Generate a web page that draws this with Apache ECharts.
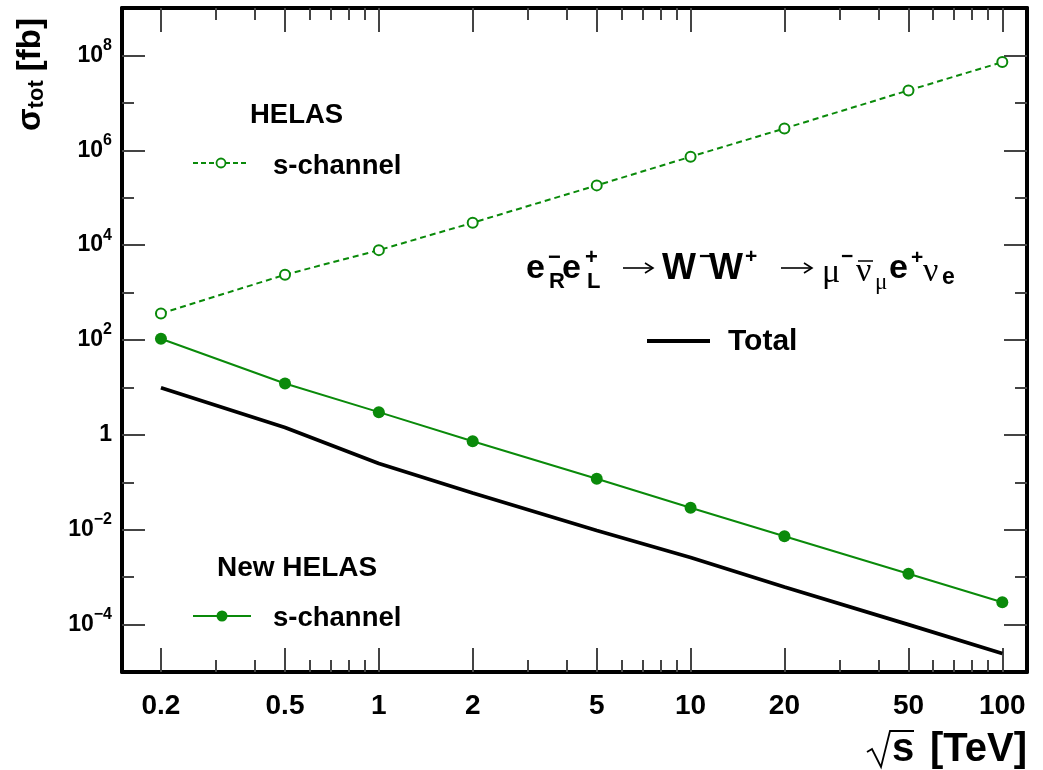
<!DOCTYPE html>
<html><head><meta charset="utf-8">
<script src="https://cdn.jsdelivr.net/npm/echarts@6/dist/echarts.min.js"></script>
<style>html,body{margin:0;padding:0;background:#fff}#c{width:1043px;height:770px}</style>
</head><body><div id="c"></div>
<script>
// ---- data ----
const energies = [0.2, 0.5, 1, 2, 5, 10, 20, 50, 100];               // sqrt(s) [TeV]
const helasS = [363, 2378, 7850, 29700, 1.82e5, 7.32e5, 2.89e6, 1.83e7, 7.24e7];
const newHelasS = [106, 12.1, 3.01, 0.736, 0.119, 0.029, 0.0073, 0.00118, 2.96e-4];
const totalXS = [9.85, 1.43, 0.249, 0.0596, 0.00964, 0.0026, 6.2e-4, 1.0e-4, 2.45e-5];
const xMajorTicks = [0.2, 0.5, 1, 2, 5, 10, 20, 50, 100];
const xTickLabels = ['0.2', '0.5', '1', '2', '5', '10', '20', '50', '100'];
const xMinorTicks = [0.3, 0.4, 0.6, 0.7, 0.8, 0.9, 3, 4, 6, 7, 8, 9, 30, 40, 60, 70, 80, 90];
const yMajorTicks = [1e-4, 1e-2, 1, 1e2, 1e4, 1e6, 1e8];
const yTickLabels = ['10{s|−4}', '10{s|−2}', '1', '10{s|2}', '10{s|4}', '10{s|6}', '10{s|8}'];
const yMinorTicks = [1e-3, 1e-1, 10, 1e3, 1e5, 1e7];

const GREEN = '#0a8a0a';
const FONT = 'Liberation Sans, Arial, Helvetica, sans-serif';
const SERIF = 'Liberation Serif, DejaVu Serif, serif';

function pick(ticks, labels, v) {
  const i = ticks.findIndex(t => Math.abs(t - v) / t < 1e-6);
  return i >= 0 ? labels[i] : '';
}
const pairs = arr => energies.map((e, i) => [e, arr[i]]);

const tickStyle = { color: '#444', width: 2 };
function xAxisDef(pos, major, withLabels) {
  return {
    type: 'log', logBase: 10, min: 0.15, max: 120, position: pos, gridIndex: 0,
    axisLine: { show: major, onZero: false, lineStyle: { color: '#000', width: 4 } },
    axisTick: { show: true, inside: true, length: major ? 24 : 12,
      customValues: major ? xMajorTicks : xMinorTicks, lineStyle: tickStyle },
    axisLabel: withLabels ? {
      show: true, customValues: xMajorTicks, margin: 20,
      formatter: v => pick(xMajorTicks, xTickLabels, v),
      fontSize: 28, fontWeight: 'bold', fontFamily: FONT, color: '#000'
    } : { show: false },
    minorTick: { show: false }, splitLine: { show: false }, minorSplitLine: { show: false }
  };
}
function yAxisDef(pos, major, withLabels) {
  return {
    type: 'log', logBase: 10, min: 1e-5, max: 1e9, position: pos, gridIndex: 0,
    axisLine: { show: major, onZero: false, lineStyle: { color: '#000', width: 4 } },
    axisTick: { show: true, inside: true, length: major ? 23 : 12,
      customValues: major ? yMajorTicks : yMinorTicks, lineStyle: tickStyle },
    axisLabel: withLabels ? {
      show: true, customValues: yMajorTicks, margin: 10,
      formatter: v => pick(yMajorTicks, yTickLabels, v),
      fontSize: 23, fontWeight: 'bold', fontFamily: FONT, color: '#000', lineHeight: 36,
      rich: { s: { fontSize: 16, fontWeight: 'bold', fontFamily: FONT, lineHeight: 16, verticalAlign: 'top' } }
    } : { show: false },
    minorTick: { show: false }, splitLine: { show: false }, minorSplitLine: { show: false }
  };
}

const chart = echarts.init(document.getElementById('c'), null, { renderer: 'canvas' });

function txt(x, y, text, size, opts) {
  opts = opts || {};
  return {
    type: 'text', x: x, y: y, rotation: opts.rotation || 0, z: 10,
    style: {
      text: text, fontSize: size, fontWeight: opts.weight || 'bold',
      fontFamily: opts.family || FONT, fill: '#000',
      align: opts.align || 'left', verticalAlign: opts.va || 'middle',
      rich: opts.rich
    }
  };
}
function ln(x1, y1, x2, y2, color, w, dash) {
  return { type: 'line', z: 10, shape: { x1, y1, x2, y2 },
    style: { stroke: color, lineWidth: w, lineDash: dash || null } };
}
function poly(points, w) {
  return { type: 'polyline', z: 10, shape: { points: points },
    style: { stroke: '#000', lineWidth: w, fill: null, lineJoin: 'miter' } };
}
function arrow(x1, x2, y) {
  return [ln(x1, y, x2, y, '#000', 1.6), poly([[x2 - 8, y - 5], [x2, y], [x2 - 8, y + 5]], 1.6)];
}

const graphics = [
  // y axis title
  txt(31, 18, 'σ{sub|tot} [fb]', 33, { rotation: Math.PI / 2, align: 'right',
    rich: { sub: { fontSize: 22, fontWeight: 'bold', fontFamily: FONT, verticalAlign: 'bottom', lineHeight: 22 } } }),
  // x axis title: radical sign + text
  poly([[867, 752], [872, 749], [881, 767], [890, 731], [914, 731]], 1.8),
  txt(892, 750, 's', 40),
  txt(1027, 750, '[TeV]', 40, { align: 'right' }),
  // HELAS legend
  txt(250, 115, 'HELAS', 27.5),
  ln(193, 163, 248, 163, GREEN, 2, [5, 3]),
  { type: 'circle', z: 11, shape: { cx: 221, cy: 163, r: 4.5 }, style: { fill: '#fff', stroke: GREEN, lineWidth: 1.8 } },
  txt(273, 166, 's-channel', 27.5),
  // New HELAS legend
  txt(217, 568, 'New HELAS', 28),
  ln(193, 616, 251, 616, GREEN, 2),
  { type: 'circle', z: 11, shape: { cx: 222, cy: 616, r: 5.5 }, style: { fill: GREEN } },
  txt(273, 618, 's-channel', 27.5),
  // Total legend
  ln(647, 341, 710, 341, '#000', 4),
  txt(728, 342, 'Total', 30),
  // process formula
  txt(526, 269, 'e', 34),
  txt(548, 258, '−', 22),
  txt(549, 282, 'R', 22),
  txt(562, 269, 'e', 34),
  txt(585, 258, '+', 22),
  txt(587, 282, 'L', 22),
  ...arrow(623, 653, 268),
  txt(662, 269, 'W', 36),
  txt(699, 257, '−', 21),
  txt(709, 269, 'W', 36),
  txt(745, 257, '+', 21),
  ...arrow(781, 812, 268),
  txt(822, 273, 'μ', 34, { weight: 'normal', family: SERIF }),
  txt(841, 257, '−', 21),
  txt(856, 272, 'ν', 34, { weight: 'normal', family: SERIF }),
  ln(858, 261, 873, 261, '#000', 1.5),
  txt(875, 283, 'μ', 23, { weight: 'normal', family: SERIF }),
  txt(889, 269, 'e', 34),
  txt(911, 258, '+', 21),
  txt(923, 272, 'ν', 34, { weight: 'normal', family: SERIF }),
  txt(942, 278, 'e', 23)
];

chart.setOption({
  animation: false,
  backgroundColor: '#fff',
  grid: { left: 122, right: 16, top: 8, bottom: 98, containLabel: false },
  xAxis: [xAxisDef('bottom', true, true), xAxisDef('bottom', false, false),
          xAxisDef('top', true, false), xAxisDef('top', false, false)],
  yAxis: [yAxisDef('left', true, true), yAxisDef('left', false, false),
          yAxisDef('right', true, false), yAxisDef('right', false, false)],
  series: [
    { name: 'Total', type: 'line', xAxisIndex: 0, yAxisIndex: 0, data: pairs(totalXS),
      symbol: 'none', lineStyle: { color: '#000', width: 3.8 }, z: 3 },
    { name: 'HELAS s-channel', type: 'line', xAxisIndex: 0, yAxisIndex: 0, data: pairs(helasS),
      symbol: 'emptyCircle', symbolSize: 10, lineStyle: { color: GREEN, width: 2, type: [6, 4] },
      itemStyle: { color: GREEN, borderColor: GREEN, borderWidth: 1.8 }, z: 4 },
    { name: 'New HELAS s-channel', type: 'line', xAxisIndex: 0, yAxisIndex: 0, data: pairs(newHelasS),
      symbol: 'circle', symbolSize: 12, lineStyle: { color: GREEN, width: 2 },
      itemStyle: { color: GREEN }, z: 5 }
  ],
  graphic: graphics
});
</script></body></html>
